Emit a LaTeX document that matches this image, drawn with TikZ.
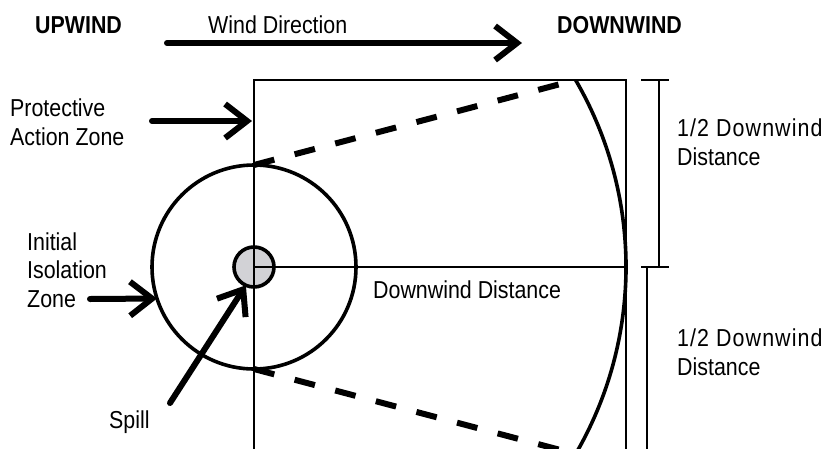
\documentclass[tikz,border=0pt]{standalone}
\usepackage{fontspec}
\setmainfont{Liberation Sans}[FakeStretch=0.873]
\usetikzlibrary{arrows.meta}
\definecolor{spillgray}{RGB}{210,210,214}
\begin{document}
\begin{tikzpicture}[x=1pt,y=-1pt,
  lbl/.style={font=\fontsize{24.5}{28.5}\selectfont, inner sep=0pt, anchor=base west, align=left},
  boldlbl/.style={font=\fontsize{24.5}{28.5}\selectfont\bfseries, inner sep=0pt, anchor=base west},
  bigarrow/.style={line width=6pt, line cap=round, line join=round, -{Straight Barb[length=22pt,width=34pt]}},
  thinline/.style={line width=2.3pt},
  midline/.style={line width=3.6pt},
  dashline/.style={line width=6pt, dash pattern=on 21pt off 21pt},
]
\useasboundingbox (0,0) rectangle (831,448);
\clip (0,0) rectangle (831,448);

% spill and zone circles
\node[circle, draw, midline, fill=spillgray, minimum size=40pt, inner sep=0pt, outer sep=0pt] (spill) at (254,267) {};
\node[circle, draw, midline, minimum size=204pt, inner sep=0pt, outer sep=0pt] (iz) at (254,267) {};

% protective action zone rectangle
\coordinate (rTL) at (254,80);
\coordinate (rBR) at (626,470);
\draw[thinline] (rTL) rectangle (rBR);

% downwind distance line
\coordinate (arcE) at (626,267);
\draw[thinline] (spill.center) -- (arcE);

% arc
\coordinate (arcT) at (575.6,80);
\draw[midline] (arcT) arc[start angle=-30.18, end angle=40, radius=372];

% dashed edges
\coordinate (dashT) at (575.6,80);
\coordinate (dashB) at (575.6,454);
\draw[dashline] (iz.north) -- (dashT);
\draw[dashline] (iz.south) -- (dashB);

% brackets
\coordinate (b1a) at (641,80);
\coordinate (b1b) at (669,80);
\coordinate (b1c) at (659,80);
\coordinate (b1d) at (659,267);
\coordinate (b2a) at (641,267);
\coordinate (b2b) at (669,267);
\coordinate (b2c) at (647,267);
\coordinate (b2d) at (647,470);
\draw[thinline] (b1a) -- (b1b);
\draw[thinline] (b1c) -- (b1d);
\draw[thinline] (b2a) -- (b2b);
\draw[thinline] (b2c) -- (b2d);

% labels
\node[boldlbl] (up) at (35,33) {UPWIND};
\node[lbl] (wd) at (208,33) {Wind Direction};
\node[boldlbl] (down) at (557,33) {DOWNWIND};
\node[lbl] (paz) at (10,145) {Protective\\Action Zone};
\node[lbl] (iiz) at (27,307) {Initial\\Isolation\\Zone};
\node[lbl] (dd) at (373,298) {Downwind Distance};
\node[lbl] (sp) at (109,428) {Spill};
\node[lbl] (h1) at (677,165) {{\addfontfeatures{LetterSpace=4.5}1/2 Downwind}\\Distance};
\node[lbl] (h2) at (677,375) {{\addfontfeatures{LetterSpace=4.5}1/2 Downwind}\\Distance};

% arrows
\coordinate (w1) at (167,43);
\coordinate (w2) at (522,43);
\draw[bigarrow] (w1) -- (w2);
\coordinate (p1) at (152,121);
\coordinate (p2) at (252,121);
\draw[bigarrow] (p1) -- (p2);
\coordinate (i1) at (90,299);
\draw[bigarrow] (i1) -- (iz.198);
\coordinate (s1) at (170,403);
\draw[bigarrow] (s1) -- (spill.246);
\end{tikzpicture}
\end{document}
